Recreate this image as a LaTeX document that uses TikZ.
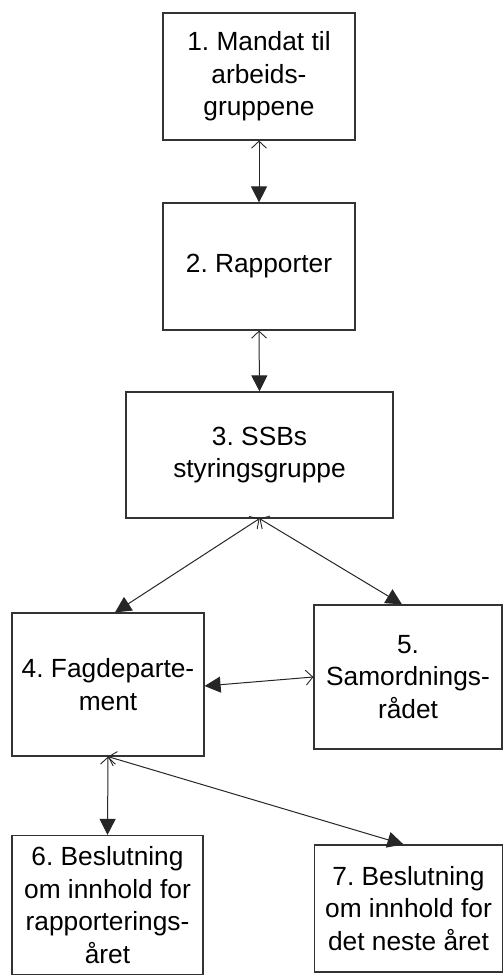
\documentclass[tikz,border=0pt]{standalone}
\usepackage{fontspec}
\setmainfont{Liberation Sans}
\usetikzlibrary{arrows.meta}
\frenchspacing

\tikzset{
  box/.style={draw=black!80, line width=1.2pt, fill=white, align=center,
    inner sep=0pt, font=\fontsize{26.3}{32.5}\selectfont},
  link/.style={draw=black!85, line width=1pt,
    arrows={Straight Barb[length=7pt,width=15pt,line width=0.9pt]-Triangle[length=16pt,width=16pt]}}
}

\begin{document}
\begin{tikzpicture}[x=1pt,y=-1pt]
  \useasboundingbox (0,0) rectangle (503,976);

  % process steps
  \node[box, minimum width=192pt, minimum height=127pt] (b1) at (259,76.5)
    {1. Mandat til\\arbeids-\\gruppene};
  \node[box, minimum width=192pt, minimum height=127pt] (b2) at (259,266.5)
    {2. Rapporter};
  \node[box, minimum width=267pt, minimum height=126pt] (b3) at (259.5,455)
    {3. SSBs\\styringsgruppe};
  \node[box, minimum width=192pt, minimum height=143pt] (b4) at (108,684.5)
    {4. Fagdeparte-\\ment};
  \node[box, minimum width=188pt, minimum height=144pt] (b5) at (408,677)
    {5.\\Samordnings-\\rådet};
  \node[box, minimum width=191pt, minimum height=139pt] (b6) at (107.5,905)
    {6. Beslutning\\om innhold for\\rapporterings-\\året};
  \node[box, minimum width=188pt, minimum height=127pt] (b7) at (408.5,908.5)
    {7. Beslutning\\om innhold for\\det neste året};

  % connectors: open head at the source, filled head at the target
  \draw[link] (b1.south) -- (b2.north);
  \draw[link] (b2.south) -- (b3.north);
  \draw[link] (b3.south) -- ([xshift=7pt]b4.north);
  \draw[link] (b3.south) -- ([xshift=-6pt]b5.north);
  \draw[link] (b5.west) -- ([yshift=-1.5pt]b4.east);
  \draw[link] (b4.south) -- (b6.north);
  \draw[link] (b4.south) -- ([xshift=-5pt]b7.north);
\end{tikzpicture}
\end{document}
